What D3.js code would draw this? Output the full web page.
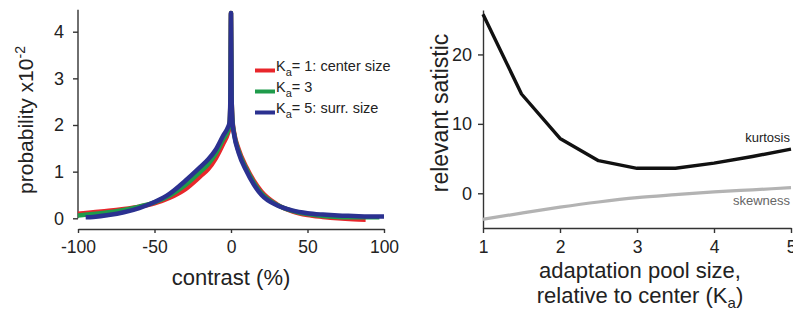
<!DOCTYPE html>
<html>
<head>
<meta charset="utf-8">
<script src="https://cdn.jsdelivr.net/npm/d3@7"></script>
<style>
  body { margin: 0; background: #fff; }
  svg { font-family: "Liberation Sans", Arial, sans-serif; }
  .axis path, .axis line { stroke: #333; stroke-width: 1.4px; }
  .axis text { fill: #222; }
</style>
</head>
<body>
<div id="chart"></div>
<script>
// left panel: contrast histogram, probability x10^-2
var contrastRed = [-100, -90, -80, -70, -60, -50, -40, -30, -20, -15, -10, -5, -2, -1, -0.4, 0, 0.4, 1, 2, 5, 10, 15, 20, 30, 40, 50, 60, 70, 80, 88];
var probRed     = [0.10, 0.13, 0.16, 0.20, 0.25, 0.32, 0.44, 0.62, 0.90, 1.05, 1.28, 1.60, 1.82, 1.95, 2.5, 4.4, 2.6, 2.10, 1.85, 1.48, 1.10, 0.80, 0.57, 0.30, 0.15, 0.07, 0.03, 0.00, -0.02, -0.03];
var contrastGreen = [-100, -90, -80, -70, -60, -50, -40, -30, -20, -15, -10, -5, -2, -1, -0.4, 0, 0.4, 1, 2, 5, 10, 15, 20, 30, 40, 50, 60, 70, 80, 90, 97];
var probGreen     = [0.06, 0.09, 0.13, 0.18, 0.25, 0.34, 0.49, 0.71, 1.00, 1.16, 1.38, 1.70, 1.88, 2.00, 2.5, 4.4, 2.6, 2.07, 1.82, 1.44, 1.06, 0.76, 0.53, 0.29, 0.16, 0.09, 0.05, 0.03, 0.02, 0.02, 0.02];
var contrastBlue = [-95, -90, -80, -70, -60, -50, -40, -30, -20, -15, -10, -5, -2, -1, -0.4, 0, 0.4, 1, 2, 5, 10, 15, 20, 30, 40, 50, 60, 70, 80, 90, 100];
var probBlue     = [0.02, 0.03, 0.07, 0.13, 0.22, 0.35, 0.53, 0.80, 1.10, 1.26, 1.47, 1.78, 1.95, 2.05, 2.6, 4.4, 2.6, 2.05, 1.80, 1.40, 1.02, 0.72, 0.50, 0.28, 0.17, 0.11, 0.08, 0.06, 0.05, 0.04, 0.04];
var leftXTicks = [-100, -50, 0, 50, 100];
var leftYTicks = [0, 1, 2, 3, 4];
var legendLabels = ["= 1: center size", "= 3", "= 5: surr. size"];

// right panel: statistics vs adaptation pool size
var poolSize = [1, 1.5, 2, 2.5, 3, 3.5, 4, 4.5, 5];
var kurtosis = [25.8, 14.3, 7.9, 4.7, 3.6, 3.6, 4.35, 5.3, 6.35];
var skewness = [-3.75, -2.85, -2.0, -1.25, -0.63, -0.2, 0.19, 0.5, 0.81];
var rightXTicks = [1, 2, 3, 4, 5];
var rightYTicks = [0, 10, 20];

var width = 793, height = 320;
var colors = ["#e8262b", "#1f9b4b", "#2b3190"];

// plain integers, ascii hyphen for negatives
var fmt = function(d) { return String(d); };

var svg = d3.select("#chart").append("svg")
    .attr("width", width)
    .attr("height", height);

// ---------- left panel ----------
var xL = d3.scaleLinear().domain([-100, 100]).range([78, 384]);
var yL = d3.scaleLinear().domain([0, 4]).range([218.3, 31.7]);

var gyL = svg.append("g")
    .attr("class", "axis")
    .attr("transform", "translate(78,0)")
    .call(d3.axisLeft(yL).tickValues(leftYTicks).tickFormat(fmt).tickSize(5).tickSizeOuter(0).tickPadding(9));
gyL.select(".domain").attr("d", "M0," + yL(4.47) + "V" + yL(0));
gyL.selectAll("text").attr("font-size", "18px");

var gxL = svg.append("g")
    .attr("class", "axis")
    .attr("transform", "translate(0,229)")
    .call(d3.axisBottom(xL).tickValues(leftXTicks).tickFormat(fmt).tickSize(4).tickSizeOuter(0).tickPadding(8));
gxL.selectAll("text").attr("font-size", "17.5px");

var lineL = d3.line()
    .x(function(d) { return xL(d[0]); })
    .y(function(d) { return yL(d[1]); })
    .curve(d3.curveMonotoneX);

var series = [
  d3.zip(contrastRed, probRed),
  d3.zip(contrastGreen, probGreen),
  d3.zip(contrastBlue, probBlue)
];
series.forEach(function(s, i) {
  svg.append("path")
      .datum(s)
      .attr("fill", "none")
      .attr("stroke", colors[i])
      .attr("stroke-width", 4.5)
      .attr("stroke-linejoin", "round")
      .attr("d", lineL);
});

// legend
legendLabels.forEach(function(lab, i) {
  var y = 70.5 + i * 21;
  svg.append("line")
      .attr("x1", 255).attr("x2", 275)
      .attr("y1", y).attr("y2", y)
      .attr("stroke", colors[i])
      .attr("stroke-width", 4);
  var t = svg.append("text")
      .attr("x", 276)
      .attr("y", y)
      .attr("font-size", "14.5px")
      .attr("fill", "#222");
  t.append("tspan").text("K");
  t.append("tspan").attr("dy", 5).attr("font-size", "11px").text("a");
  t.append("tspan").attr("dy", -5).text(lab);
});

var yLab = svg.append("text")
    .attr("transform", "translate(33,120) rotate(-90)")
    .attr("text-anchor", "middle")
    .attr("font-size", "21px")
    .attr("fill", "#222");
yLab.append("tspan").text("probability x10");
yLab.append("tspan").attr("dy", -8).attr("font-size", "14px").text("-2");

svg.append("text")
    .attr("x", 231)
    .attr("y", 285)
    .attr("text-anchor", "middle")
    .attr("font-size", "22px")
    .attr("fill", "#222")
    .text("contrast (%)");

// ---------- right panel ----------
var xR = d3.scaleLinear().domain([1, 5]).range([483, 791]);
var yR = d3.scaleLinear().domain([-5, 26.4]).range([228, 10]);

var gyR = svg.append("g")
    .attr("class", "axis")
    .attr("transform", "translate(483,0)")
    .call(d3.axisLeft(yR).tickValues(rightYTicks).tickFormat(fmt).tickSize(5).tickSizeOuter(0).tickPadding(6));
gyR.selectAll("text").attr("font-size", "18px");

var gxR = svg.append("g")
    .attr("class", "axis")
    .attr("transform", "translate(0,228)")
    .call(d3.axisBottom(xR).tickValues(rightXTicks).tickFormat(fmt).tickSize(5).tickSizeOuter(0).tickPadding(8));
gxR.selectAll("text").attr("font-size", "17.5px");

var lineK = d3.line()
    .x(function(d, i) { return xR(poolSize[i]); })
    .y(function(d) { return yR(d); });

var lineS = d3.line()
    .x(function(d, i) { return xR(poolSize[i]); })
    .y(function(d) { return yR(d); })
    .curve(d3.curveMonotoneX);

svg.append("path")
    .datum(skewness)
    .attr("fill", "none")
    .attr("stroke", "#b3b3b3")
    .attr("stroke-width", 3.2)
    .attr("d", lineS);

svg.append("path")
    .datum(kurtosis)
    .attr("fill", "none")
    .attr("stroke", "#111")
    .attr("stroke-width", 3.4)
    .attr("stroke-linejoin", "round")
    .attr("d", lineK);

svg.append("text")
    .attr("x", 790).attr("y", 142)
    .attr("text-anchor", "end")
    .attr("font-size", "13px")
    .attr("fill", "#222")
    .text("kurtosis");

svg.append("text")
    .attr("x", 790).attr("y", 205)
    .attr("text-anchor", "end")
    .attr("font-size", "13px")
    .attr("fill", "#666")
    .text("skewness");

svg.append("text")
    .attr("transform", "translate(448,113) rotate(-90)")
    .attr("text-anchor", "middle")
    .attr("font-size", "23px")
    .attr("fill", "#222")
    .text("relevant satistic");

svg.append("text")
    .attr("x", 640).attr("y", 278)
    .attr("text-anchor", "middle")
    .attr("font-size", "22px")
    .attr("fill", "#222")
    .text("adaptation pool size,");

var xLab2 = svg.append("text")
    .attr("x", 640).attr("y", 303)
    .attr("text-anchor", "middle")
    .attr("font-size", "22px")
    .attr("fill", "#222");
xLab2.append("tspan").text("relative to center (K");
xLab2.append("tspan").attr("dy", 5).attr("font-size", "15px").text("a");
xLab2.append("tspan").attr("dy", -5).text(")");
</script>
</body>
</html>
